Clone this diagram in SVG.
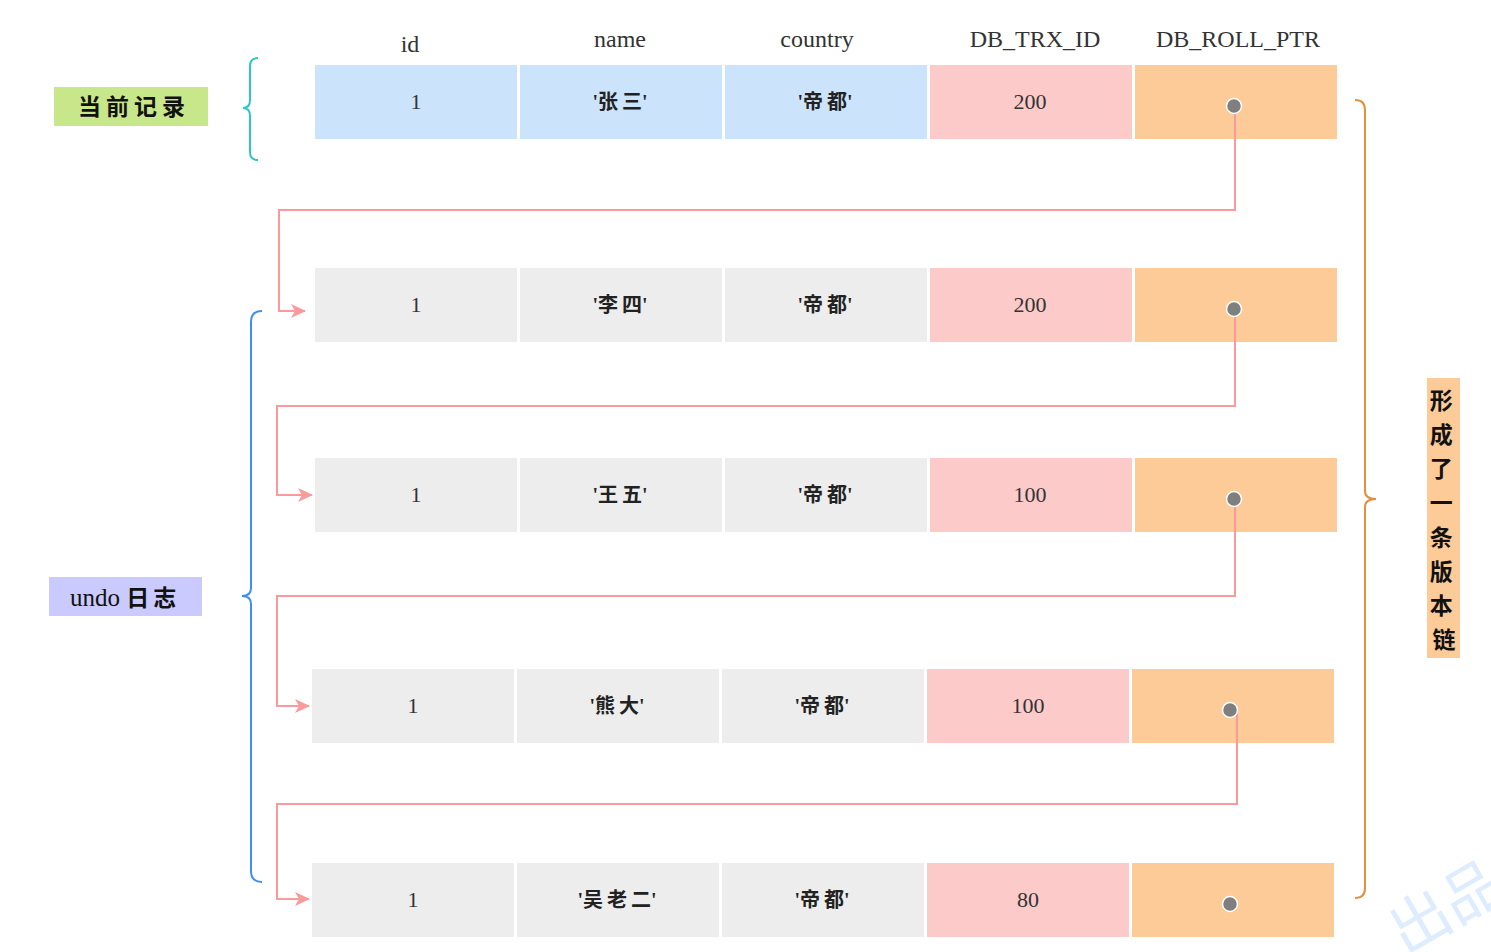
<svg xmlns="http://www.w3.org/2000/svg" width="1491" height="952" viewBox="0 0 1491 952">
<style>
.hdr{font-family:"Liberation Serif","Noto Sans CJK SC",serif;font-size:24px;fill:#333;text-anchor:middle}
.num{font-family:"Liberation Serif",serif;font-size:22px;fill:#333;text-anchor:middle}
.cn{font-family:"Liberation Serif","Noto Sans CJK SC",serif;font-size:20px;fill:#222;text-anchor:middle;font-weight:bold}
.sp{letter-spacing:4px}
.lbl{font-family:"Liberation Serif","Noto Sans CJK SC",serif;font-size:23px;fill:#111;text-anchor:middle;font-weight:bold}
.blue{fill:#cce4fb}.gray{fill:#ededed}.pink{fill:#fdcaca}.orange{fill:#fccb97}
.dot{fill:#7f7f7f;stroke:#fff;stroke-width:1.5}
.link{fill:none;stroke:#fb9a9a;stroke-width:2}
.brace{fill:none;stroke-width:2}
</style>
<defs>
<marker id="arr" viewBox="0 0 16 16" refX="15" refY="8" markerWidth="16" markerHeight="16" markerUnits="userSpaceOnUse" orient="auto">
<path d="M1,1 L16,8 L1,15 L5,8 Z" fill="#fb9a9a"/>
</marker>
</defs>

<g id="headers">
<text class="hdr" x="410" y="52">id</text>
<text class="hdr" x="620" y="47">name</text>
<text class="hdr" x="817" y="47">country</text>
<text class="hdr" x="1035" y="47">DB_TRX_ID</text>
<text class="hdr" x="1238" y="47">DB_ROLL_PTR</text>
</g>

<g id="row1">
<rect class="blue" x="315" y="65" width="202" height="74"/>
<rect class="blue" x="520" y="65" width="202" height="74"/>
<rect class="blue" x="725" y="65" width="202" height="74"/>
<rect class="pink" x="930" y="65" width="202" height="74"/>
<rect class="orange" x="1135" y="65" width="202" height="74"/>
<text class="num" x="416" y="109">1</text>
<text class="cn" x="620" y="109">'<tspan class="sp">张</tspan>三'</text>
<text class="cn" x="825" y="109">'<tspan class="sp">帝</tspan>都'</text>
<text class="num" x="1030" y="109">200</text>
</g>

<g id="row2">
<rect class="gray" x="315" y="268" width="202" height="74"/>
<rect class="gray" x="520" y="268" width="202" height="74"/>
<rect class="gray" x="725" y="268" width="202" height="74"/>
<rect class="pink" x="930" y="268" width="202" height="74"/>
<rect class="orange" x="1135" y="268" width="202" height="74"/>
<text class="num" x="416" y="312">1</text>
<text class="cn" x="620" y="312">'<tspan class="sp">李</tspan>四'</text>
<text class="cn" x="825" y="312">'<tspan class="sp">帝</tspan>都'</text>
<text class="num" x="1030" y="312">200</text>
</g>

<g id="row3">
<rect class="gray" x="315" y="458" width="202" height="74"/>
<rect class="gray" x="520" y="458" width="202" height="74"/>
<rect class="gray" x="725" y="458" width="202" height="74"/>
<rect class="pink" x="930" y="458" width="202" height="74"/>
<rect class="orange" x="1135" y="458" width="202" height="74"/>
<text class="num" x="416" y="502">1</text>
<text class="cn" x="620" y="502">'<tspan class="sp">王</tspan>五'</text>
<text class="cn" x="825" y="502">'<tspan class="sp">帝</tspan>都'</text>
<text class="num" x="1030" y="502">100</text>
</g>

<g id="row4">
<rect class="gray" x="312" y="669" width="202" height="74"/>
<rect class="gray" x="517" y="669" width="202" height="74"/>
<rect class="gray" x="722" y="669" width="202" height="74"/>
<rect class="pink" x="927" y="669" width="202" height="74"/>
<rect class="orange" x="1132" y="669" width="202" height="74"/>
<text class="num" x="413" y="713">1</text>
<text class="cn" x="617" y="713">'<tspan class="sp">熊</tspan>大'</text>
<text class="cn" x="822" y="713">'<tspan class="sp">帝</tspan>都'</text>
<text class="num" x="1028" y="713">100</text>
</g>

<g id="row5">
<rect class="gray" x="312" y="863" width="202" height="74"/>
<rect class="gray" x="517" y="863" width="202" height="74"/>
<rect class="gray" x="722" y="863" width="202" height="74"/>
<rect class="pink" x="927" y="863" width="202" height="74"/>
<rect class="orange" x="1132" y="863" width="202" height="74"/>
<text class="num" x="413" y="907">1</text>
<text class="cn" x="617" y="907">'<tspan class="sp">吴老</tspan>二'</text>
<text class="cn" x="822" y="907">'<tspan class="sp">帝</tspan>都'</text>
<text class="num" x="1028" y="907">80</text>
</g>

<g id="connectors">
<path class="link" d="M1235,106 V210 H279 V311 H305" marker-end="url(#arr)"/>
<path class="link" d="M1235,309 V406 H277 V495 H312" marker-end="url(#arr)"/>
<path class="link" d="M1235,499 V596 H277 V706 H309" marker-end="url(#arr)"/>
<path class="link" d="M1237,710 V804 H277 V899 H309" marker-end="url(#arr)"/>
</g>

<g id="pointers">
<circle class="dot" cx="1234" cy="106" r="7.5"/>
<circle class="dot" cx="1234" cy="309" r="7.5"/>
<circle class="dot" cx="1234" cy="499" r="7.5"/>
<circle class="dot" cx="1230" cy="710" r="7.5"/>
<circle class="dot" cx="1230" cy="904" r="7.5"/>
</g>

<g id="brace-current">
<path class="brace" stroke="#2ec4cc" d="M258,58 Q250,58 250,66 L250,100 Q250,108 243,108 Q250,108 250,116 L250,152 Q250,160 258,160"/>
</g>
<g id="brace-undo">
<path class="brace" stroke="#3d8ff2" d="M262,311 Q251,311 251,322 L251,588 Q251,596 242,596 Q251,596 251,604 L251,871 Q251,882 262,882"/>
</g>
<g id="brace-chain">
<path class="brace" stroke="#e0913f" d="M1355,100 Q1365,100 1365,110 L1365,491 Q1365,499 1376,499 Q1365,499 1365,507 L1365,888 Q1365,898 1355,898"/>
</g>

<g id="label-current">
<rect x="54" y="87" width="154" height="39" fill="#c8e68a"/>
<text class="lbl" x="134" y="115" letter-spacing="5">当前记录</text>
</g>
<g id="label-undo">
<rect x="49" y="577" width="153" height="39" fill="#cacaff"/>
<text class="lbl" x="125" y="606" style="font-weight:normal;font-size:25px">undo <tspan font-weight="bold" font-size="23" letter-spacing="4">日志</tspan></text>
</g>
<g id="label-chain">
<rect x="1427" y="378" width="33" height="280" fill="#fccb97"/>
<text class="lbl" x="1444" text-anchor="middle">
<tspan x="1444" y="409">形</tspan>
<tspan x="1444" y="443">成</tspan>
<tspan x="1444" y="477">了</tspan>
<tspan x="1444" y="511">一</tspan>
<tspan x="1444" y="546">条</tspan>
<tspan x="1444" y="580">版</tspan>
<tspan x="1444" y="614">本</tspan>
<tspan x="1444" y="648">链</tspan>
</text>
</g>

<g id="watermark" opacity="0.5">
<text x="1405" y="955" transform="rotate(-30 1405 955)" font-family="Noto Sans CJK SC,sans-serif" font-size="60" fill="#bcdcff">出品</text>
</g>
</svg>
